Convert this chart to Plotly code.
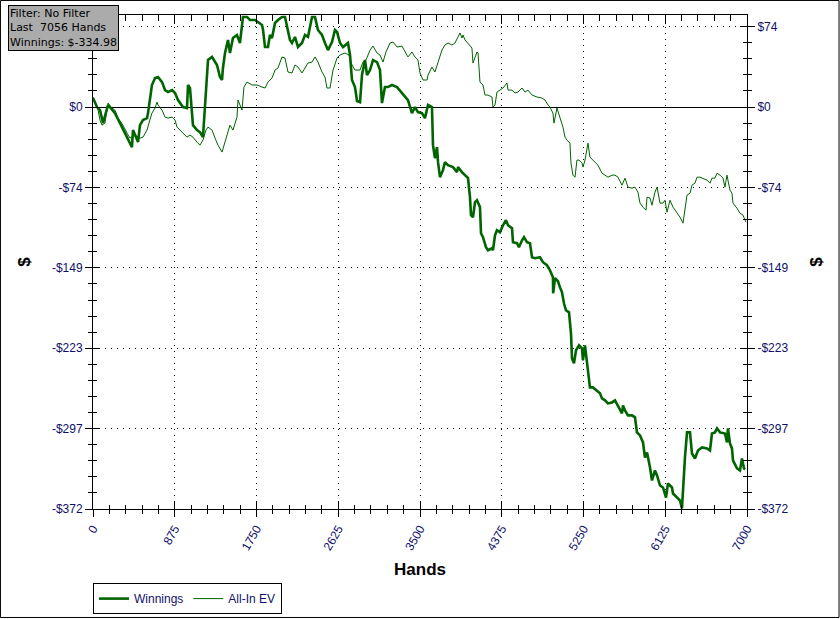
import plotly.graph_objects as go

# ---------------- data ----------------
win_hands = [0, 43, 75, 107, 161, 203, 235, 289, 342, 375, 417, 428, 482, 503, 535, 578, 589,
             631, 664, 696, 739, 771, 803, 846, 878, 910, 963, 1006, 1017, 1038, 1060, 1070,
             1113, 1145, 1177, 1199, 1220, 1231, 1274, 1327, 1359, 1381, 1391, 1413, 1445,
             1466, 1498, 1541, 1573, 1595, 1605, 1648, 1680, 1734, 1766, 1809, 1820, 1841,
             1873, 1894, 1916, 1948, 1980, 2023, 2055, 2076, 2108, 2130, 2162, 2194, 2237,
             2269, 2301, 2344, 2376, 2408, 2451, 2483, 2515, 2558, 2590, 2612, 2644, 2676,
             2729, 2751, 2772, 2804, 2826, 2858, 2879, 2911, 2933, 2965, 2997, 3040, 3072,
             3093, 3125, 3157, 3200, 3254, 3307, 3339, 3371, 3414, 3446, 3478, 3521, 3553,
             3586, 3628, 3639, 3660, 3682, 3693, 3714, 3746, 3767, 3800, 3853, 3896, 3907,
             3949, 3982, 4014, 4035, 4046, 4067, 4089, 4110, 4142, 4153, 4174, 4206, 4228,
             4270, 4281, 4303, 4324, 4356, 4388, 4420, 4442, 4485, 4495, 4538, 4559, 4592,
             4613, 4645, 4677, 4699, 4731, 4784, 4816, 4859, 4891, 4923, 4925, 4945, 4977,
             4998, 5020, 5041, 5062, 5095, 5116, 5127, 5148, 5170, 5202, 5234, 5244, 5266,
             5298, 5319, 5351, 5394, 5426, 5448, 5480, 5512, 5555, 5587, 5619, 5662, 5673,
             5694, 5726, 5769, 5801, 5822, 5855, 5887, 5908, 5930, 5962, 5983, 6015, 6037,
             6069, 6101, 6133, 6154, 6197, 6208, 6251, 6283, 6304, 6315, 6336, 6358, 6390,
             6411, 6443, 6475, 6518, 6572, 6604, 6625, 6657, 6679, 6711, 6764, 6786, 6796,
             6818, 6839, 6850, 6893, 6925, 6946, 6968, 6979]
win_values = [8.3, 0, -2.8, -14.8, 1.9, -2.8, -5.6, -14.8, -24.1, -28.7, -37.0, -21.3, -32.4,
              -16.7, -12.0, -10.2, -5.6, 20.4, 26.8, 27.8, 23.1, 15.7, 13.9, 15.7, 13.0, 6.5,
              0, -0.9, 20.4, 17.6, -2.8, -16.7, -21.3, -23.1, -27.8, 0, 27.8, 43.5, 46.3,
              38.9, 27.8, 25.0, 36.1, 50.0, 62.0, 50.0, 63.8, 66.6, 59.2, 77.7, 83.3, 83.3,
              80.5, 80.5, 78.7, 75.9, 71.2, 55.5, 55.5, 66.6, 63.8, 77.7, 80.5, 83.3, 83.3,
              74.0, 62.0, 59.2, 64.8, 55.5, 59.2, 66.6, 64.8, 83.3, 83.3, 71.2, 66.6, 59.2,
              52.7, 60.1, 71.2, 69.4, 59.2, 55.5, 59.2, 48.1, 25.0, 18.5, 5.6, 4.6, 29.6,
              43.5, 29.6, 34.2, 43.5, 41.6, 34.2, 3.7, 18.5, 18.5, 20.4, 18.5, 13.0, 9.3,
              6.5, -5.6, 0, -4.6, -5.6, -10.2, 1.9, 0, -35.2, -47.2, -37.0, -50.9, -64.8,
              -58.3, -50.9, -53.7, -55.5, -60.1, -55.5, -60.1, -62.9, -65.7, -83.3, -99.9,
              -101.8, -87.9, -86.1, -92.5, -116.6, -120.3, -129.5, -132.3, -130.5, -132.3,
              -118.4, -113.8, -115.7, -109.2, -104.6, -109.2, -112.0, -124.9, -125.8, -129.5,
              -123.1, -120.3, -124.9, -125.8, -138.8, -139.7, -138.8, -143.4, -146.2, -150.8,
              -157.3, -172.1, -158.2, -161.0, -166.6, -171.2, -181.4, -187.8, -189.7, -209.1,
              -232.3, -236.9, -224.8, -220.2, -223.0, -234.1, -220.2, -243.4, -259.1, -259.1,
              -261.9, -264.6, -269.3, -271.1, -273.9, -273.0, -271.1, -275.7, -283.1, -275.7,
              -280.4, -285.0, -285.0, -286.8, -300.7, -303.5, -310.0, -323.9, -319.2, -333.1,
              -345.1, -335.9, -340.5, -349.8, -351.6, -360.9, -347.9, -351.6, -357.2, -360.9,
              -363.6, -371.0, -352.5, -323.9, -300.7, -300.7, -320.2, -324.8, -317.4, -314.6,
              -315.5, -317.4, -301.7, -300.7, -297.0, -300.7, -301.7, -310.0, -297.0, -310.9,
              -315.5, -326.6, -334.0, -335.9, -324.8, -334.0, -334.98]

ev_hands = [0, 54, 75, 96, 128, 150, 161, 203, 235, 268, 321, 364, 396, 450, 503, 535, 578,
            599, 631, 664, 685, 696, 739, 771, 803, 846, 878, 899, 931, 963, 1006, 1038, 1070,
            1113, 1145, 1177, 1209, 1231, 1274, 1306, 1338, 1381, 1413, 1445, 1466, 1498,
            1541, 1552, 1595, 1616, 1648, 1702, 1755, 1809, 1841, 1873, 1916, 1948, 1980,
            2023, 2055, 2087, 2130, 2162, 2194, 2237, 2269, 2301, 2344, 2376, 2408, 2451,
            2483, 2504, 2537, 2569, 2612, 2644, 2697, 2740, 2772, 2804, 2858, 2890, 2922,
            2965, 2997, 3040, 3072, 3104, 3136, 3179, 3211, 3254, 3307, 3339, 3371, 3414,
            3446, 3478, 3500, 3532, 3575, 3586, 3628, 3660, 3682, 3693, 3735, 3767, 3800,
            3842, 3874, 3907, 3928, 3949, 3960, 3982, 4014, 4056, 4067, 4110, 4121, 4142,
            4174, 4196, 4228, 4270, 4281, 4303, 4324, 4356, 4388, 4431, 4442, 4485, 4517,
            4549, 4592, 4624, 4656, 4699, 4752, 4806, 4838, 4870, 4891, 4923, 4934, 4966,
            4998, 5030, 5052, 5073, 5105, 5116, 5137, 5159, 5180, 5202, 5234, 5244, 5266,
            5287, 5298, 5319, 5351, 5373, 5405, 5448, 5480, 5512, 5555, 5587, 5619, 5662,
            5694, 5726, 5769, 5801, 5833, 5855, 5887, 5919, 5930, 5962, 5983, 6015, 6037,
            6047, 6069, 6101, 6122, 6144, 6176, 6208, 6251, 6283, 6315, 6336, 6358, 6390,
            6411, 6443, 6465, 6497, 6529, 6572, 6604, 6625, 6657, 6679, 6711, 6743, 6764,
            6786, 6796, 6818, 6839, 6850, 6893, 6925, 6957, 6989]
ev_values = [9.3, -2.8, -12.0, -16.7, -14.8, 0, 3.7, -0.9, -2.8, -10.2, -16.7, -24.1, -28.7,
             -25.9, -28.7, -27.8, -21.3, -14.8, -5.6, -0.9, 4.6, 1.9, -2.8, -9.3, -10.2, -9.3,
             -12.0, -18.5, -21.3, -24.1, -27.8, -25.9, -27.8, -32.4, -35.2, -30.5, -21.3,
             -18.5, -21.3, -28.7, -35.2, -41.6, -32.4, -23.1, -16.7, -21.3, -9.3, 6.5, -2.8,
             18.5, 23.1, 20.4, 20.4, 18.5, 17.6, 23.1, 26.8, 34.2, 36.1, 46.3, 45.3, 32.4,
             31.5, 38.9, 37.0, 31.5, 36.1, 40.7, 41.6, 46.3, 41.6, 32.4, 27.8, 17.6, 17.6,
             34.2, 45.3, 48.1, 50.0, 48.1, 38.9, 34.2, 34.2, 41.6, 43.5, 52.7, 56.4, 50.0,
             48.1, 41.6, 50.9, 59.2, 60.1, 55.5, 56.4, 50.9, 46.3, 50.9, 46.3, 43.5, 31.5,
             25.0, 25.0, 29.6, 37.0, 32.4, 38.9, 40.7, 52.7, 57.4, 59.2, 57.4, 59.2, 64.8,
             68.5, 63.8, 66.6, 62.0, 59.2, 54.6, 40.7, 50.9, 50.0, 23.1, 20.4, 11.1, 11.1,
             9.3, 0, 1.9, 13.9, 15.7, 17.6, 22.2, 15.7, 15.7, 13.0, 13.9, 17.6, 13.9, 15.7,
             11.1, 9.3, 8.3, 6.5, 1.9, 0, -5.6, -14.8, -0.9, -9.3, -18.5, -27.8, -30.5,
             -33.3, -51.8, -62.9, -64.8, -49.0, -49.0, -51.8, -55.5, -49.0, -37.9, -33.3,
             -46.3, -49.0, -50.9, -53.7, -61.1, -62.9, -64.8, -62.9, -62.9, -64.8, -72.2,
             -65.7, -74.0, -75.0, -74.0, -78.7, -88.8, -92.5, -95.3, -83.3, -84.2, -90.7,
             -78.7, -74.0, -79.6, -88.8, -88.8, -86.1, -97.2, -86.1, -92.5, -97.2, -101.8,
             -107.3, -92.5, -81.4, -79.6, -72.2, -70.3, -64.8, -64.8, -65.7, -67.5, -70.3,
             -65.7, -65.7, -61.1, -62.9, -65.7, -74.0, -62.9, -67.5, -76.8, -79.6, -88.8,
             -93.5, -98.1, -99.9, -106.4]

x_tickvals = [0, 875, 1750, 2625, 3500, 4375, 5250, 6125, 7000]
y_tickvals = [74.3, 0, -74.3, -148.6, -222.9, -297.2, -371.5]
y_ticktext = ["$74", "$0", "-$74", "-$149", "-$223", "-$297", "-$372"]
info_lines = ["Filter: No Filter", "Last  7056 Hands", "Winnings: $-334.98"]

# ---------------- figure ----------------
GREEN = "#006400"
LBL = "#10106a"
FONT = "Arial, Liberation Sans, sans-serif"
X_RANGE = [0, 7000]
Y_RANGE = [-371.5, 85.1]

fig = go.Figure()
fig.add_trace(go.Scatter(x=win_hands, y=win_values, mode="lines", name="Winnings",
                         line=dict(color=GREEN, width=2.6), hoverinfo="skip"))
fig.add_trace(go.Scatter(x=ev_hands, y=ev_values, mode="lines", name="All-In EV",
                         line=dict(color=GREEN, width=1), hoverinfo="skip"))

# invisible helper traces so overlay axes get drawn
for xa, ya in [("x2", "y3"), ("x3", "y4"), ("x", "y2")]:
    fig.add_trace(go.Scatter(x=[0], y=[0], xaxis=xa, yaxis=ya, mode="markers",
                             marker=dict(opacity=0), showlegend=False, hoverinfo="skip"))

tickfont = dict(family=FONT, size=12, color=LBL)
titlefont = dict(family=FONT, size=17, color="black", weight="bold")

fig.update_layout(
    width=840, height=619,
    margin=dict(l=93, r=93, t=15, b=110, autoexpand=False),
    paper_bgcolor="white", plot_bgcolor="white",
    showlegend=True,
    legend=dict(orientation="h", x=0.0, y=-0.150, xanchor="left", yanchor="top",
                bordercolor="black", borderwidth=1, bgcolor="white",
                font=dict(family=FONT, size=12, color=LBL), itemwidth=30,
                tracegroupgap=0),
    xaxis=dict(range=X_RANGE, tickmode="array", tickvals=x_tickvals, tickangle=-60,
               tickfont=tickfont, ticks="outside", ticklen=7, tickcolor="black",
               showline=True, linecolor="black", linewidth=1, mirror=True,
               showgrid=True, gridcolor="black", griddash="1px,5px", gridwidth=1,
               zeroline=False, automargin=False,
               minor=dict(tickmode="linear", tick0=0, dtick=175, ticks="outside",
                          ticklen=4, tickcolor="black", showgrid=False),
               title=dict(text="Hands", font=titlefont, standoff=11)),
    xaxis2=dict(range=X_RANGE, overlaying="x", anchor="y", side="bottom",
                tickmode="array", tickvals=x_tickvals, showticklabels=False,
                ticks="inside", ticklen=7, tickcolor="black", showgrid=False,
                zeroline=False, showline=False, automargin=False,
                minor=dict(tickmode="linear", tick0=0, dtick=175, ticks="inside",
                           ticklen=4, tickcolor="black", showgrid=False)),
    xaxis3=dict(range=X_RANGE, overlaying="x", anchor="y", side="top",
                tickmode="array", tickvals=x_tickvals, showticklabels=False,
                ticks="inside", ticklen=9, tickcolor="black", showgrid=False,
                zeroline=False, showline=False, automargin=False,
                minor=dict(tickmode="linear", tick0=0, dtick=175, ticks="inside",
                           ticklen=6, tickcolor="black", showgrid=False)),
    yaxis=dict(range=Y_RANGE, tickmode="array", tickvals=y_tickvals, ticktext=y_ticktext,
               tickfont=tickfont, ticks="outside", ticklen=7, tickcolor="black",
               showline=True, linecolor="black", linewidth=1, mirror=True,
               showgrid=True, gridcolor="black", griddash="1px,5px", gridwidth=1,
               zeroline=True, zerolinecolor="black", zerolinewidth=1, automargin=False,
               minor=dict(tickmode="linear", tick0=0, dtick=14.86, ticks="outside",
                          ticklen=4, tickcolor="black", showgrid=False),
               title=dict(text="$", font=titlefont, standoff=16)),
    yaxis2=dict(range=Y_RANGE, overlaying="y", anchor="x", side="right",
                tickmode="array", tickvals=y_tickvals, ticktext=y_ticktext,
                tickfont=tickfont, ticks="outside", ticklen=7, tickcolor="black",
                showgrid=False, zeroline=False, showline=False, automargin=False,
                minor=dict(tickmode="linear", tick0=0, dtick=14.86, ticks="outside",
                           ticklen=4, tickcolor="black", showgrid=False),
                title=dict(text="$", font=titlefont, standoff=22)),
    yaxis3=dict(range=Y_RANGE, overlaying="y", anchor="x", side="left",
                tickmode="array", tickvals=y_tickvals, showticklabels=False,
                ticks="inside", ticklen=7, tickcolor="black", showgrid=False,
                zeroline=False, showline=False, automargin=False,
                minor=dict(tickmode="linear", tick0=0, dtick=14.86, ticks="inside",
                           ticklen=4, tickcolor="black", showgrid=False)),
    yaxis4=dict(range=Y_RANGE, overlaying="y", anchor="x", side="right",
                tickmode="array", tickvals=y_tickvals, showticklabels=False,
                ticks="inside", ticklen=7, tickcolor="black", showgrid=False,
                zeroline=False, showline=False, automargin=False,
                minor=dict(tickmode="linear", tick0=0, dtick=14.86, ticks="inside",
                           ticklen=4, tickcolor="black", showgrid=False)),
)

# info box (top-left)
fig.add_annotation(xref="paper", yref="paper", x=-0.130, y=1.0202,
                   xanchor="left", yanchor="top", align="left", showarrow=False,
                   text="<br>".join(info_lines),
                   font=dict(family="DejaVu Sans", size=11, color="black"),
                   bgcolor="#ababab", bordercolor="black", borderwidth=1, borderpad=1)

# outer frame around the whole chart
fig.add_shape(type="rect", xref="paper", yref="paper",
              x0=-0.1415, x1=1.1407, y0=-0.2196, y1=1.0294,
              line=dict(color="black", width=1), layer="above")

fig.write_html("out.html", config={"displayModeBar": False},
               post_script="document.body.style.margin='0';document.body.style.overflow='hidden';")
